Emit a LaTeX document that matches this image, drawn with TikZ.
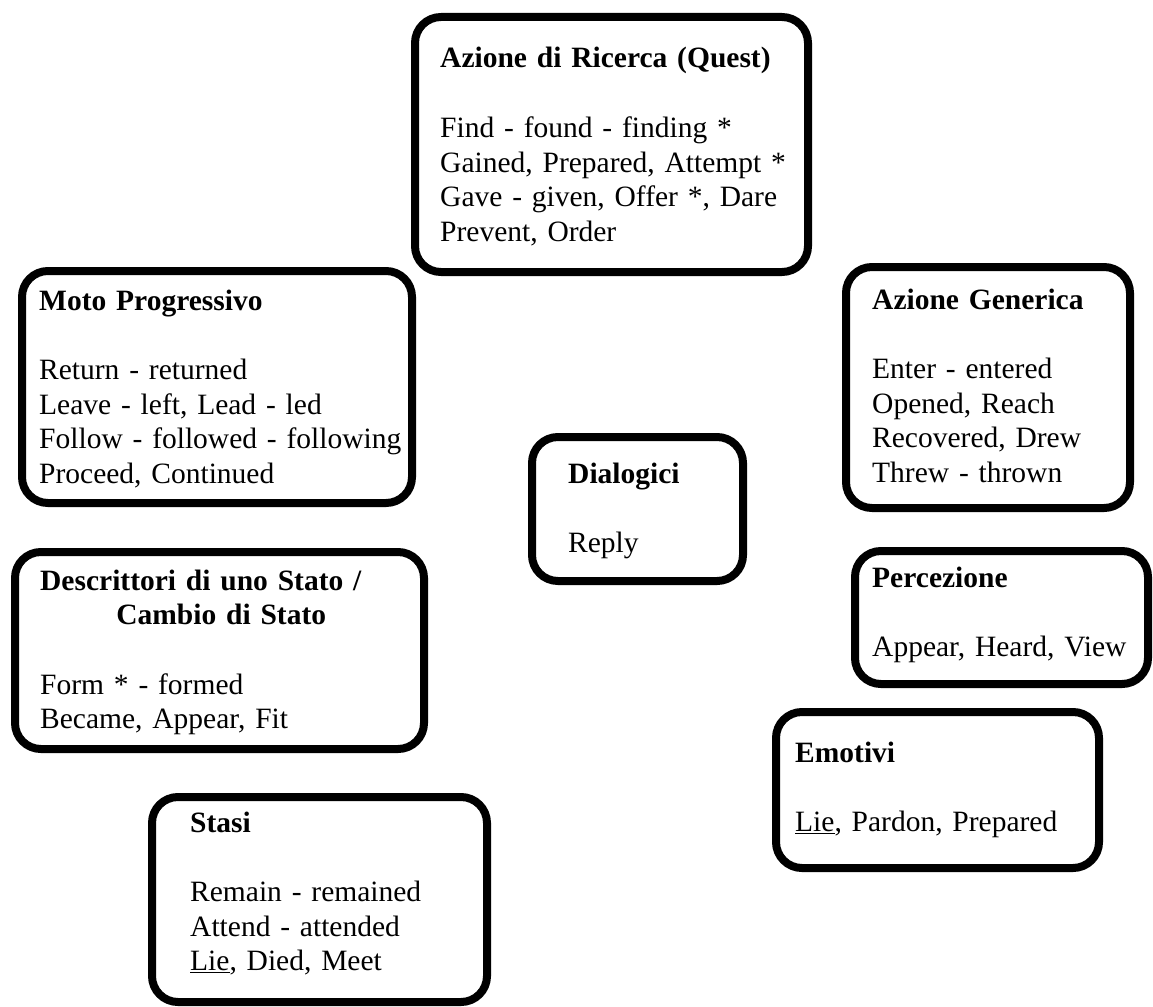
\documentclass[tikz,border=0pt]{standalone}
\usepackage{fontspec}
\setmainfont{Liberation Serif}[WordSpace=0.8]
\usepackage{tikz}
\usetikzlibrary{positioning,calc}

\tikzset{
  card/.style={draw, line width=8pt, rounded corners=26pt, inner sep=0pt},
  cardtext/.style={anchor=base west, inner sep=0pt, text width=380, align=left,
    font=\fontsize{29.5pt}{34.7pt}\selectfont},
}
\newcommand{\gap}{\\[\baselineskip]}

\begin{document}
\begin{tikzpicture}[x=1pt, y=-1pt]
    \useasboundingbox[fill=white] (0,0) rectangle (1153,1006);

    % Boxes
    \node[card, minimum width=393, minimum height=255] (quest) at (611.5,144.5) {};
    \node[card, minimum width=390, minimum height=232] (moto) at (217,387) {};
    \node[card, minimum width=284, minimum height=241] (generica) at (988,387.5) {};
    \node[card, minimum width=211, minimum height=144] (dialogici) at (637.5,509) {};
    \node[card, minimum width=409, minimum height=197] (descrittori) at (219.5,650.5) {};
    \node[card, minimum width=293, minimum height=133] (percezione) at (1001.5,617.5) {};
    \node[card, minimum width=323, minimum height=156] (emotivi) at (937.5,790) {};
    \node[card, minimum width=335, minimum height=205] (stasi) at (319.5,899.5) {};

    % Texts
    \node[cardtext] (questtxt) at (440,68) {\textbf{Azione di Ricerca (Quest)}\gap
        Find - found - finding *\\Gained, Prepared, Attempt *\\
        Gave - given, Offer *, Dare\\Prevent, Order};
    \node[cardtext] (mototxt) at (39,310) {\textbf{Moto Progressivo}\gap
        Return - returned\\Leave - left, Lead - led\\
        Follow - followed - following\\Proceed, Continued};
    \node[cardtext] (genericatxt) at (872,309) {\textbf{Azione Generica}\gap
        Enter - entered\\Opened, Reach\\Recovered, Drew\\Threw - thrown};
    \node[cardtext] (dialogicitxt) at (568,483) {\textbf{Dialogici}\gap Reply};
    \node[cardtext] (descrittoritxt) at (40,590)
        {\textbf{Descrittori di uno Stato /}\\
        \makebox[362pt][c]{\textbf{Cambio di Stato}}\gap
        Form * - formed\\Became, Appear, Fit};
    \node[cardtext] (percezionetxt) at (872,587) {\textbf{Percezione}\gap
        Appear, Heard, View};
    \node[cardtext] (emotivitxt) at (795,762) {\textbf{Emotivi}\gap
        \underline{Lie}, Pardon, Prepared};
    \node[cardtext] (stasitxt) at (190,832) {\textbf{Stasi}\gap
        Remain - remained\\Attend - attended\\\underline{Lie}, Died, Meet};
\end{tikzpicture}
\end{document}
